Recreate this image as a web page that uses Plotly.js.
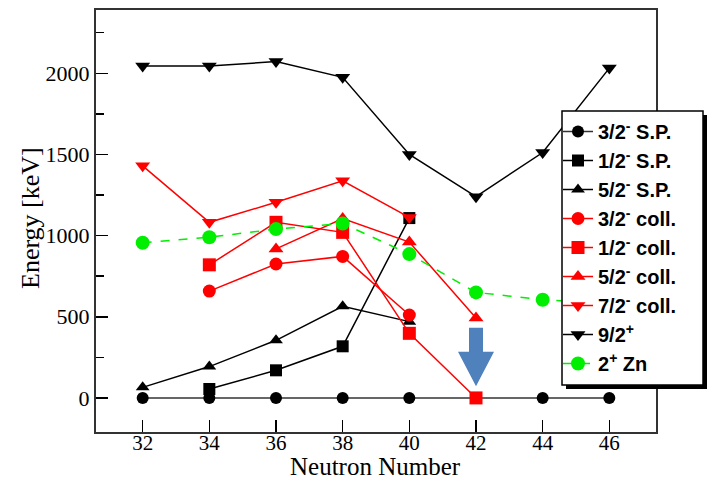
<!DOCTYPE html>
<html>
<head>
<meta charset="utf-8">
<script src="https://cdn.plot.ly/plotly-3.0.1.min.js"></script>
<style>html,body{margin:0;padding:0;background:#fff;}#chart{width:712px;height:477px;}</style>
</head>
<body>
<div id="chart"></div>
<script>
// Data
const neutrons = [32, 34, 36, 38, 40, 42, 44, 46];

const sp32_x = [32, 34, 36, 38, 40, 42, 44, 46];
const sp32_y = [0, 0, 0, 0, 0, 0, 0, 0];

const sp12_x = [34, 36, 38, 40];
const sp12_y = [55, 170, 318, 1108];

const sp52_x = [32, 34, 36, 38, 40];
const sp52_y = [65, 193, 355, 565, 470];

const coll32_x = [34, 36, 38, 40];
const coll32_y = [658, 825, 872, 511];

const coll12_x = [34, 36, 38, 40, 42];
const coll12_y = [820, 1082, 1020, 398, 0];

const coll52_x = [36, 38, 40, 42];
const coll52_y = [918, 1105, 960, 492];

const coll72_x = [32, 34, 36, 38, 40];
const coll72_y = [1430, 1082, 1205, 1338, 1112];

const g92_x = [32, 34, 36, 38, 40, 42, 44, 46];
const g92_y = [2045, 2045, 2072, 1975, 1500, 1240, 1512, 2032];

const zn2_x = [32, 34, 36, 38, 40, 42, 44, 46];
const zn2_y = [956, 990, 1040, 1075, 886, 650, 605, 580];

const names = ["3/2<sup>-</sup> S.P.", "1/2<sup>-</sup> S.P.", "5/2<sup>-</sup> S.P.",
  "3/2<sup>-</sup> coll.", "1/2<sup>-</sup> coll.", "5/2<sup>-</sup> coll.",
  "7/2<sup>-</sup> coll.", "9/2<sup>+</sup>", "2<sup>+</sup> Zn"];

const xTitle = 'Neutron Number';
const yTitle = 'Energy [keV]';

// Arrow (annotation) parameters
const arrowX = 42, arrowTop = 432, arrowHeadBase = 285, arrowTip = 72;
const shaftHalf = 0.21, headHalf = 0.54;

function tr(x, y, name, color, symbol, size, dash, i) {
  return {
    x: x, y: y, name: name, type: 'scatter', mode: 'lines+markers',
    legendgroup: 'g' + i,
    line: {color: color, width: 1.5, dash: dash || 'solid'},
    marker: {color: color, symbol: symbol, size: size}
  };
}

const RED = '#ff0000', BLK = '#000000', GRN = '#00ee00';
const data = [
  tr(sp32_x, sp32_y, names[0], BLK, 'circle', 12, null, 0),
  tr(sp12_x, sp12_y, names[1], BLK, 'square', 12, null, 1),
  tr(sp52_x, sp52_y, names[2], BLK, 'triangle-up', 12, null, 2),
  tr(coll32_x, coll32_y, names[3], RED, 'circle', 13, null, 3),
  tr(coll12_x, coll12_y, names[4], RED, 'square', 13, null, 4),
  tr(coll52_x, coll52_y, names[5], RED, 'triangle-up', 13, null, 5),
  tr(coll72_x, coll72_y, names[6], RED, 'triangle-down', 13, null, 6),
  tr(g92_x, g92_y, names[7], BLK, 'triangle-down', 13, null, 7),
  tr(zn2_x, zn2_y, names[8], GRN, 'circle', 14, 'dash', 8)
];
data[0].line.color = '#333333';

const arrowPath = 'M ' + (arrowX - shaftHalf) + ',' + arrowTop +
  ' L ' + (arrowX + shaftHalf) + ',' + arrowTop +
  ' L ' + (arrowX + shaftHalf) + ',' + arrowHeadBase +
  ' L ' + (arrowX + headHalf) + ',' + arrowHeadBase +
  ' L ' + arrowX + ',' + arrowTip +
  ' L ' + (arrowX - headHalf) + ',' + arrowHeadBase +
  ' L ' + (arrowX - shaftHalf) + ',' + arrowHeadBase + ' Z';

// paper-coordinate helpers
const W = 712, H = 477, ML = 96, MR = 56, MT = 10, MB = 45;
const pw = W - ML - MR, ph = H - MT - MB;
const px = v => (v - ML) / pw;
const py = v => (H - MB - v) / ph;

const serif = 'Liberation Serif, Times New Roman, serif';
const layout = {
  width: W, height: H,
  margin: {l: ML, r: MR, t: MT, b: MB},
  paper_bgcolor: '#fff', plot_bgcolor: '#fff',
  showlegend: true,
  legend: {
    x: px(558), y: py(112), xanchor: 'left', yanchor: 'top',
    xref: 'paper', yref: 'paper',
    bgcolor: 'rgba(0,0,0,0)', borderwidth: 0,
    font: {family: 'Liberation Sans, Arial, sans-serif', size: 20, color: '#000', weight: 'bold'},
    tracegroupgap: 4, itemwidth: 30, traceorder: 'normal'
  },
  xaxis: {
    range: [30.6, 47.4], tickvals: neutrons, ticktext: neutrons.map(String),
    ticks: 'inside', ticklen: 12, tickwidth: 1.5, tickcolor: '#000',
    ticklabelstandoff: -9,
    showgrid: false, zeroline: false, showline: true, linecolor: '#333', linewidth: 2, mirror: true,
    tickfont: {family: serif, size: 21, color: '#000'}
  },
  yaxis: {
    range: [-210, 2390], tickvals: [0, 500, 1000, 1500, 2000],
    ticks: 'inside', ticklen: 12, tickwidth: 1.5, tickcolor: '#000',
    minor: {tickvals: [250, 750, 1250, 1750, 2250], ticks: 'inside', ticklen: 8, tickwidth: 1.5, tickcolor: '#000'},
    showgrid: false, zeroline: false, showline: true, linecolor: '#333', linewidth: 2, mirror: true,
    tickfont: {family: serif, size: 22, color: '#000'}
  },
  annotations: [
    {text: xTitle, xref: 'paper', yref: 'paper', x: px(375), y: py(466), xanchor: 'center', yanchor: 'middle',
     showarrow: false, font: {family: serif, size: 25, color: '#000'}},
    {text: yTitle, xref: 'paper', yref: 'paper', x: px(30), y: py(218), xanchor: 'center', yanchor: 'middle',
     textangle: -90, showarrow: false, font: {family: serif, size: 26, color: '#000'}}
  ],
  shapes: [
    {type: 'path', xref: 'x', yref: 'y', path: arrowPath,
     fillcolor: '#4f81bd', line: {width: 0}, layer: 'above'},
    {type: 'rect', xref: 'paper', yref: 'paper', x0: px(566), x1: px(707), y0: py(115), y1: py(389),
     fillcolor: '#000', line: {width: 0}, layer: 'above'},
    {type: 'rect', xref: 'paper', yref: 'paper', x0: px(562), x1: px(703), y0: py(111), y1: py(385),
     fillcolor: '#fff', line: {width: 1.5, color: '#000'}, layer: 'above'}
  ]
};

Plotly.newPlot('chart', data, layout, {displayModeBar: false, staticPlot: true});
</script>
</body>
</html>
